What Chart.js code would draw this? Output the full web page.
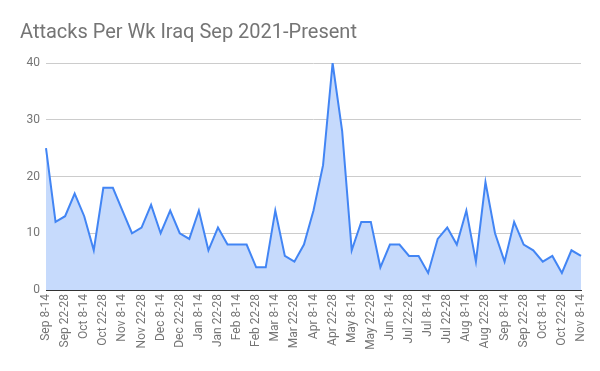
<!DOCTYPE html>
<html>
<head>
<meta charset="utf-8">
<script src="https://cdn.jsdelivr.net/npm/chart.js@4/dist/chart.umd.min.js"></script>
<style>
html,body{margin:0;padding:0;background:#fff;}
#wrap{width:600px;height:371px;position:relative;}
</style>
</head>
<body>
<div id="wrap"><canvas id="c" width="600" height="371"></canvas></div>
<script>
const chartTitle = "Attacks Per Wk Iraq Sep 2021-Present";
const weeks = [
  "Sep 8-14","Sep 15-21","Sep 22-28","Oct 1-7","Oct 8-14","Oct 15-21","Oct 22-28","Nov 1-7",
  "Nov 8-14","Nov 15-21","Nov 22-28","Dec 1-7","Dec 8-14","Dec 15-21","Dec 22-28","Jan 1-7",
  "Jan 8-14","Jan 15-21","Jan 22-28","Feb 1-7","Feb 8-14","Feb 15-21","Feb 22-28","Mar 1-7",
  "Mar 8-14","Mar 15-21","Mar 22-28","Apr 1-7","Apr 8-14","Apr 15-21","Apr 22-28","May 1-7",
  "May 8-14","May 15-21","May 22-28","Jun 1-7","Jun 8-14","Jun 15-21","Jul 22-28","Jul 1-7",
  "Jul 8-14","Jul 15-21","Jul 22-28","Aug 1-7","Aug 8-14","Aug 15-21","Aug 22-28","Sep 1-7",
  "Sep 8-14","Sep 15-21","Sep 22-28","Oct 1-7","Oct 8-14","Oct 15-21","Oct 22-28","Nov 1-7",
  "Nov 8-14"
];
const attacks = [
  25,12,13,17,13,7,18,18,14,10,11,15,10,14,10,9,
  14,7,11,8,8,8,4,4,14,6,5,8,14,22,40,28,
  7,12,12,4,8,8,6,6,3,9,11,8,14,5,19,10,
  5,12,8,7,5,6,3,7,6
];
const yTicks = [0,10,20,30,40];

const titlePlugin = {
  id: 'titleText',
  afterDraw(chart) {
    const ctx = chart.ctx;
    ctx.save();
    ctx.font = '20px Roboto';
    ctx.fillStyle = '#757575';
    ctx.textAlign = 'left';
    ctx.textBaseline = 'alphabetic';
    ctx.fillText(chartTitle, 20, 38);
    ctx.restore();
  }
};

new Chart(document.getElementById('c'), {
  type: 'line',
  data: {
    labels: weeks,
    datasets: [{
      data: attacks,
      borderColor: '#4285f4',
      backgroundColor: '#c6dafc',
      borderWidth: 2,
      fill: 'origin',
      tension: 0,
      pointRadius: 0,
      pointHoverRadius: 0
    }]
  },
  options: {
    responsive: false,
    animation: false,
    layout: { padding: { left: 0, right: 19, top: 63, bottom: 0 } },
    plugins: { legend: { display: false }, title: { display: false }, tooltip: { enabled: false } },
    scales: {
      x: {
        offset: false,
        grid: { display: false, drawTicks: false },
        border: { display: true, color: '#333333', width: 1 },
        ticks: {
          autoSkip: false,
          minRotation: 90,
          maxRotation: 90,
          padding: 4,
          color: '#757575',
          font: { family: 'Roboto', size: 12 },
          callback: function(v, i) { return i % 2 === 0 ? weeks[i] : ''; }
        },
        afterFit(scale) { scale.height = 81; }
      },
      y: {
        min: 0, max: 40,
        afterBuildTicks(scale) { scale.ticks = yTicks.map(v => ({ value: v })); },
        grid: {
          color: (c) => c.tick && c.tick.value === 0 ? '#333333' : '#cccccc',
          drawTicks: false
        },
        border: { display: false },
        ticks: {
          padding: 6,
          color: '#757575',
          font: { family: 'Roboto', size: 12 }
        },
        afterFit(scale) { scale.width = 46; }
      }
    }
  },
  plugins: [titlePlugin]
});
</script>
</body>
</html>
